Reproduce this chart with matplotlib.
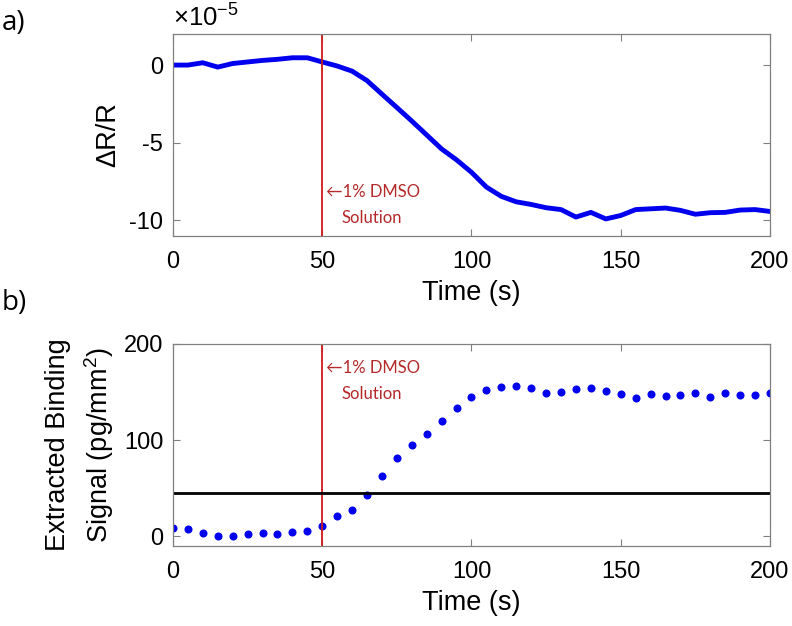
import matplotlib
matplotlib.use('Agg')
import matplotlib.pyplot as plt
import numpy as np

plt.rcParams['font.family'] = ['Liberation Sans', 'DejaVu Sans']
plt.rcParams['axes.unicode_minus'] = False
plt.rcParams['mathtext.fontset'] = 'custom'
plt.rcParams['mathtext.rm'] = 'Liberation Sans'
plt.rcParams['mathtext.it'] = 'Liberation Sans'

# panel a: reflectance change, in units of 1e-5
time_a = np.arange(0, 201, 5)
dr_r = [0, 0, 0.15, -0.13, 0.1, 0.2, 0.3, 0.37, 0.47, 0.47,
        0.2, -0.06, -0.39, -1.0, -1.87, -2.73, -3.6, -4.5, -5.4, -6.1,
        -6.9, -7.85, -8.45, -8.8, -8.97, -9.18, -9.3, -9.78, -9.48, -9.9,
        -9.68, -9.3, -9.25, -9.2, -9.35, -9.6, -9.5, -9.48, -9.33, -9.3,
        -9.42]

# panel b: extracted binding signal (pg/mm^2)
time_b = np.arange(0, 201, 5)
binding = [9, 8, 3.5, 0.7, 0.7, 2.4, 3.5, 2.4, 4.1, 5.2,
           10.4, 21, 27.6, 43.5, 62.9, 81, 94.6, 106.4, 119.5, 133,
           145.4, 152, 155.8, 156.8, 154, 149.5, 150.6, 153.7, 154.4, 151.3,
           147.5, 144, 147.8, 146.4, 146.8, 148.9, 145, 149.2, 147.1, 147.1,
           148.9]

inject_time = 50
threshold = 45

fig = plt.figure(figsize=(7.92, 6.26), dpi=100)
ax1 = fig.add_axes([0.2184, 0.623, 0.7538, 0.3227])
ax2 = fig.add_axes([0.2184, 0.1278, 0.7538, 0.3227])

red = '#d01818'
note_color = '#b42828'
note_font = ['Lato', 'DejaVu Sans']

ax1.plot(time_a, dr_r, color='#0000ee', linewidth=3.5)
ax1.axvline(inject_time, color=red, linewidth=1.3)
ax1.set_xlim(0, 200)
ax1.set_ylim(-11, 2)
ax1.set_yticks([0, -5, -10])
ax1.set_xticks([0, 50, 100, 150, 200])
ax1.set_xlabel('Time (s)', fontsize=19.5, labelpad=5)
ax1.set_ylabel('ΔR/R', fontsize=19.5, labelpad=6)
ax1.text(0.0, 1.01, r'$\times\mathregular{10^{-5}}$', transform=ax1.transAxes,
         fontsize=18.5, ha='left', va='bottom')
ax1.text(inject_time + 1.3, -8.2, '←1% DMSO', color=note_color,
         fontsize=12, family=note_font, va='center')
ax1.text(inject_time + 6.5, -9.85, 'Solution', color=note_color,
         fontsize=12, family=note_font, va='center')

ax2.plot(time_b, binding, 'o', color='#0000ee', markersize=5.8,
         markeredgewidth=0)
ax2.axvline(inject_time, color=red, linewidth=1.3)
ax2.axhline(threshold, color='black', linewidth=2)
ax2.set_xlim(0, 200)
ax2.set_ylim(-10, 200)
ax2.set_yticks([0, 100, 200])
ax2.set_xticks([0, 50, 100, 150, 200])
ax2.set_xlabel('Time (s)', fontsize=19.5, labelpad=5)
ax2.set_ylabel('Extracted Binding\nSignal (pg/mm$^2$)', fontsize=19.5,
               labelpad=6, linespacing=1.4)
ax2.text(inject_time + 1.3, 175, '←1% DMSO', color=note_color,
         fontsize=12, family=note_font, va='center')
ax2.text(inject_time + 6.5, 148, 'Solution', color=note_color,
         fontsize=12, family=note_font, va='center')

for ax in (ax1, ax2):
    for side in ax.spines.values():
        side.set_color('#808080')
        side.set_linewidth(0.9)
    ax.tick_params(direction='in', top=True, right=True, length=5,
                   color='#808080', labelsize=17)
    ax.tick_params(axis='x', pad=11)
    ax.tick_params(axis='y', pad=7)

fig.text(0.002, 0.963, 'a)', fontsize=20, va='center',
         family=['Open Sans', 'DejaVu Sans'])
fig.text(0.002, 0.516, 'b)', fontsize=20, va='center',
         family=['Open Sans', 'DejaVu Sans'])

fig.savefig('out.png', dpi=100)
